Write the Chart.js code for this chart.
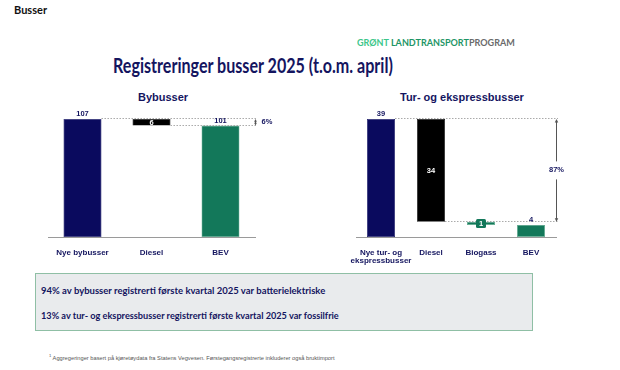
<!DOCTYPE html>
<html>
<head>
<meta charset="utf-8">
<script src="https://cdn.jsdelivr.net/npm/chart.js@4.4.1/dist/chart.umd.min.js"></script>
<style>
    body { margin: 0; width: 620px; height: 370px; background: #fff; position: relative; overflow: hidden; font-family: "Liberation Sans", Arial, sans-serif; }
    .abs { position: absolute; white-space: nowrap; line-height: 1; }
    .fit { transform-origin: left center; }
    .navy { color: #14155f; }
    canvas { position: absolute; }
</style>
</head>
<body>
<div class="abs" style="left:14px; top:3px; font:bold 11px Lato; color:#111;">Busser</div>
<div class="abs fit" id="logo" data-w="158" style="left:357px; top:37px; font:bold 9.5px Lato;">
    <span style="color:#3cc68a">GRØNT </span><span style="color:#1e9566">LANDTRANSPORT</span><span style="color:#6a6a6a">PROGRAM</span>
</div>
<div class="abs fit navy" id="title" data-w="280" style="left:113px; top:53px; font:bold 20px Lato;">Registreringer busser 2025 (t.o.m. april)</div>

<div class="abs navy" style="left:138px; top:91px; font:bold 11px 'Liberation Sans';">Bybusser</div>
<div class="abs navy" style="left:400px; top:91px; font:bold 11px 'Liberation Sans';">Tur- og ekspressbusser</div>

<canvas id="byChart" width="250" height="167" style="left:40px; top:100px;"></canvas>
<canvas id="turChart" width="280" height="167" style="left:340px; top:100px;"></canvas>

<div class="abs" style="left:35px; top:273px; width:496px; height:56px; background:#e9ebed; border:1px solid #8fbfa5;"></div>
<div class="abs fit navy" data-w="284" style="left:41px; top:285px; font:bold 9.5px Lato;">94% av bybusser registrerti første kvartal 2025 var batterielektriske</div>
<div class="abs fit navy" data-w="298" style="left:41px; top:310px; font:bold 9.5px Lato;">13% av tur- og ekspressbusser registrerti første kvartal 2025 var fossilfrie</div>

<div class="abs fit" data-w="286" style="left:49px; top:353px; font:5.5px 'Liberation Sans'; color:#555;"><sup style="font-size:4px">1</sup> Aggregeringer basert på kjøretøydata fra Statens Vegvesen. Førstegangsregistrerte inkluderer også bruktimport</div>

<script>
    // data
    const byLabels = ['Nye bybusser', 'Diesel', 'BEV']
    const byValues = [107, 6, 101]
    const turLabels = [['Nye tur- og', 'ekspressbusser'], 'Diesel', 'Biogass', 'BEV']
    const turValues = [39, 34, 1, 4]

    const NAVY = '#0a0a5e', BLACK = '#000000', GREEN = '#13785a', TEXT = '#14155f'
    const byColors = [NAVY, BLACK, GREEN]
    const turColors = [NAVY, BLACK, GREEN, GREEN]

    document.querySelectorAll('.fit').forEach(el => {
        const w = +el.dataset.w
        if (w) el.style.transform = 'scaleX(' + (w / el.offsetWidth) + ')'
    })

    // first and last are totals, the ones between step down
    function waterfall(values) {
        let level = values[0]
        return values.map((v, i) => {
            if (i === 0 || i === values.length - 1) return [0, v]
            let r = [level - v, level]
            level -= v
            return r
        })
    }

    function arrowHead(ctx, x, y, dir, s) {
        ctx.beginPath()
        ctx.moveTo(x, y)
        ctx.lineTo(x - s * 0.7, y - dir * s * 1.4)
        ctx.lineTo(x + s * 0.7, y - dir * s * 1.4)
        ctx.closePath()
        ctx.fill()
    }

    const deco = {
        id: 'deco',
        afterDatasetsDraw(chart, args, opts) {
            const ctx = chart.ctx
            const meta = chart.getDatasetMeta(0)
            const ds = chart.data.datasets[0]
            const values = opts.values
            const xs = chart.scales.x, ys = chart.scales.y
            const n = values.length
            ctx.save()

            // dotted connectors
            ctx.strokeStyle = '#aaaaaa'
            ctx.lineWidth = 1
            ctx.setLineDash([1.5, 1.5])
            opts.connect.forEach(i => {
                const bar = meta.data[i]
                const r = ds.data[i]
                const level = i === 0 ? r[1] : r[0]
                const py = Math.round(ys.getPixelForValue(level)) - 0.5
                ctx.beginPath()
                ctx.moveTo(bar.x + bar.width / 2, py)
                ctx.lineTo(xs.right + 2, py)
                ctx.stroke()
            })
            ctx.setLineDash([])

            // value labels
            ctx.font = 'bold 7.5px "Liberation Sans"'
            ctx.textAlign = 'center'
            ctx.textBaseline = 'middle'
            meta.data.forEach((bar, i) => {
                const r = ds.data[i]
                const top = ys.getPixelForValue(r[1]), bot = ys.getPixelForValue(r[0])
                const txt = String(values[i])
                if (i === 0 || i === n - 1) {
                    ctx.fillStyle = TEXT
                    ctx.fillText(txt, bar.x, top - 5)
                } else if (bot - top >= 6) {
                    ctx.fillStyle = '#fff'
                    ctx.fillText(txt, bar.x, (top + bot) / 2 + 0.5)
                } else {
                    const mid = (top + bot) / 2
                    ctx.fillStyle = ds.backgroundColor[i]
                    ctx.beginPath()
                    ctx.roundRect(bar.x - 5, mid - 4.5, 10, 9, 1.5)
                    ctx.fill()
                    ctx.fillStyle = '#fff'
                    ctx.fillText(txt, bar.x, mid + 0.5)
                }
            })

            // bracket with share of diesel
            const ax = Math.round(xs.right) + 0.5
            const y1 = ys.getPixelForValue(values[0]), y2 = ys.getPixelForValue(ds.data[1][0])
            const pct = Math.round(values[1] / values[0] * 100) + '%'
            const s = opts.head
            ctx.strokeStyle = '#555'
            ctx.fillStyle = '#555'
            if (opts.side === 'right') {
                ctx.beginPath()
                ctx.moveTo(ax, y1 + s); ctx.lineTo(ax, y2 - s)
                ctx.stroke()
                arrowHead(ctx, ax, y1, -1, s)
                arrowHead(ctx, ax, y2, 1, s)
                ctx.fillStyle = TEXT
                ctx.textAlign = 'left'
                ctx.fillText(pct, ax + 6, (y1 + y2) / 2)
            } else {
                const mid = (y1 + y2) / 2
                ctx.beginPath()
                ctx.moveTo(ax, y1 + s); ctx.lineTo(ax, mid - 9)
                ctx.moveTo(ax, mid + 9); ctx.lineTo(ax, y2 - s)
                ctx.stroke()
                arrowHead(ctx, ax, y1, -1, s)
                arrowHead(ctx, ax, y2, 1, s)
                ctx.fillStyle = TEXT
                ctx.fillText(pct, ax, mid)
            }
            ctx.restore()
        }
    }

    function makeChart(id, labels, values, colors, yMax, barPct, padding, connect, side, head) {
        return new Chart(document.getElementById(id), {
            type: 'bar',
            data: {
                labels: labels,
                datasets: [{
                    data: waterfall(values),
                    backgroundColor: colors,
                    borderColor: colors.map(c => c === GREEN ? '#5fae8e' : c),
                    borderWidth: 0.6,
                    borderSkipped: false,
                    barPercentage: barPct,
                    categoryPercentage: 1
                }]
            },
            options: {
                responsive: false,
                animation: false,
                layout: { padding: padding },
                plugins: {
                    legend: { display: false },
                    tooltip: { enabled: false },
                    deco: { values: values, connect: connect, side: side, head: head }
                },
                scales: {
                    x: {
                        grid: { display: false },
                        border: { display: true, color: '#9a9a9a', width: 1 },
                        ticks: {
                            color: TEXT,
                            font: { family: 'Liberation Sans', size: 8, weight: 'bold', lineHeight: 1.1 },
                            padding: 3,
                            maxRotation: 0,
                            autoSkip: false
                        },
                        afterFit: axis => { axis.height = 30 }
                    },
                    y: { display: false, min: 0, max: yMax }
                }
            },
            plugins: [deco]
        })
    }

    makeChart('byChart', byLabels, byValues, byColors, 119.7, 0.55,
        { left: 8, right: 35, top: 5, bottom: 0 }, [0, 1], 'right', 2)
    makeChart('turChart', turLabels, turValues, turColors, 43.6, 0.56,
        { left: 16, right: 64, top: 5, bottom: 0 }, [0, 1], 'center', 2.5)
</script>
</body>
</html>
